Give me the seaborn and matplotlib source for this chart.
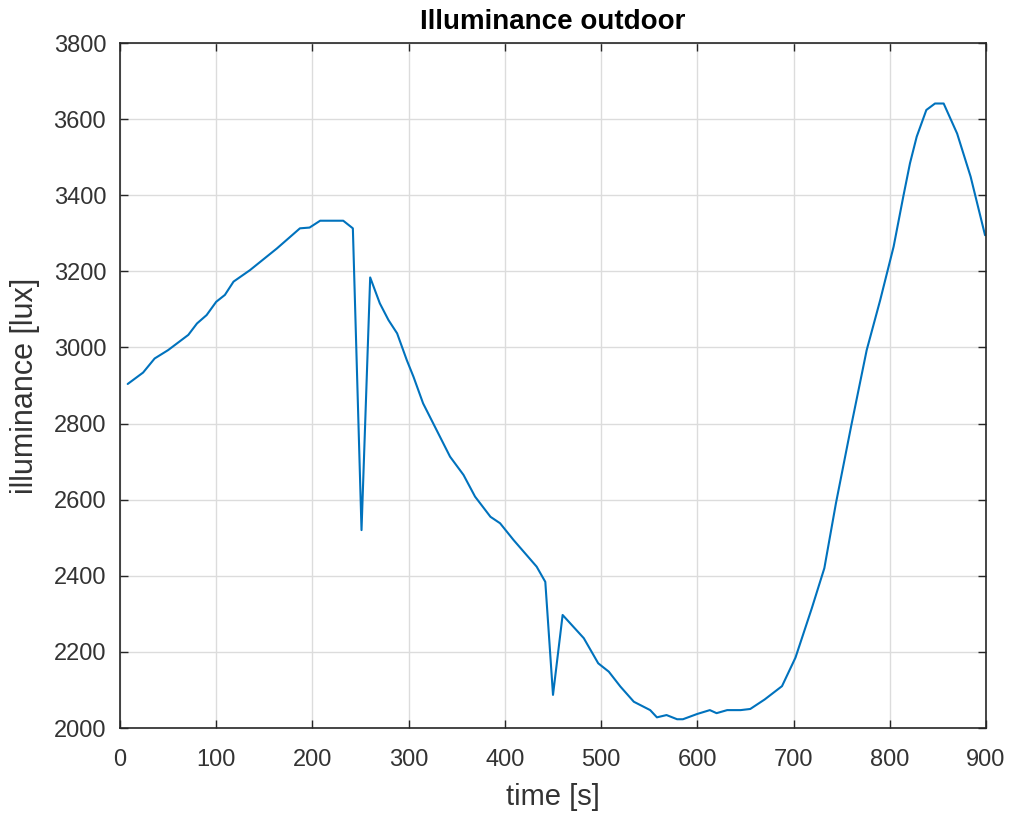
import numpy as np
import pandas as pd
import matplotlib
matplotlib.use("Agg")
import matplotlib.pyplot as plt
import seaborn as sns

# Data
time_s = [8, 24, 36, 50, 71, 80, 90, 100, 109, 118, 135, 163, 187, 197, 208, 232, 242,
          251, 260, 270, 279, 288, 298, 305, 315, 329, 343, 357, 369, 385, 395, 409,
          433, 442, 450, 460, 482, 497, 508, 520, 534, 551, 558, 568, 579, 585, 600,
          613, 620, 631, 645, 655, 670, 688, 702, 719, 732, 744, 760, 776, 790,
          804, 814, 821, 828, 838, 847, 856, 870, 884, 899]
illuminance_lux = [2904, 2934, 2971, 2993, 3033, 3063, 3085, 3120, 3138, 3173, 3203, 3260,
                   3313, 3315, 3333, 3333, 3313,
                   2520, 3184, 3116, 3072, 3037, 2967, 2923, 2853, 2783, 2713, 2665, 2608,
                   2555, 2538, 2494,
                   2424, 2384, 2087, 2297, 2236, 2170, 2148, 2109, 2069, 2047, 2028, 2034,
                   2023, 2023, 2037, 2047, 2039, 2047, 2047, 2050, 2075, 2110, 2185, 2315,
                   2420, 2590, 2795, 2993, 3124, 3265, 3396, 3484, 3554, 3624, 3641,
                   3641, 3562, 3449, 3295]

x_ticks = [0, 100, 200, 300, 400, 500, 600, 700, 800, 900]
y_ticks = [2000, 2200, 2400, 2600, 2800, 3000, 3200, 3400, 3600, 3800]

df = pd.DataFrame({"time": time_s, "illuminance": illuminance_lux})

sns.set_style("white")
plt.rcParams["font.family"] = ["Liberation Sans", "DejaVu Sans"]

fig = plt.figure(figsize=(10.13, 8.15), dpi=100)
ax = fig.add_axes([120 / 1013, 87 / 815, 866 / 1013, 685 / 815])

sns.lineplot(data=df, x="time", y="illuminance", ax=ax, color="#0072BD",
             linewidth=1.5, estimator=None, sort=False)

ax.set_xlim(0, 900)
ax.set_ylim(2000, 3800)
ax.set_xticks(x_ticks)
ax.set_yticks(y_ticks)

dark = "#262626"
ax.grid(True, color="#dcdcdc", linewidth=1.0)
ax.set_axisbelow(True)
for s in ax.spines.values():
    s.set_color(dark)
    s.set_linewidth(1.2)
    s.set_visible(True)
ax.tick_params(axis="both", direction="in", length=6, width=1.0, colors=dark,
               labelcolor="#333333", labelsize=17,
               top=True, right=True, bottom=True, left=True)
ax.tick_params(axis="x", pad=15)
ax.tick_params(axis="y", pad=10)

ax.set_xlabel("time [s]", fontsize=21, color="#333333", labelpad=9)
ax.set_ylabel("illuminance [lux]", fontsize=22, color="#333333", labelpad=10)
ax.set_title("Illuminance outdoor", fontsize=20, fontweight="bold", color="black", pad=10)

fig.savefig("out.png", dpi=100, facecolor="white")
